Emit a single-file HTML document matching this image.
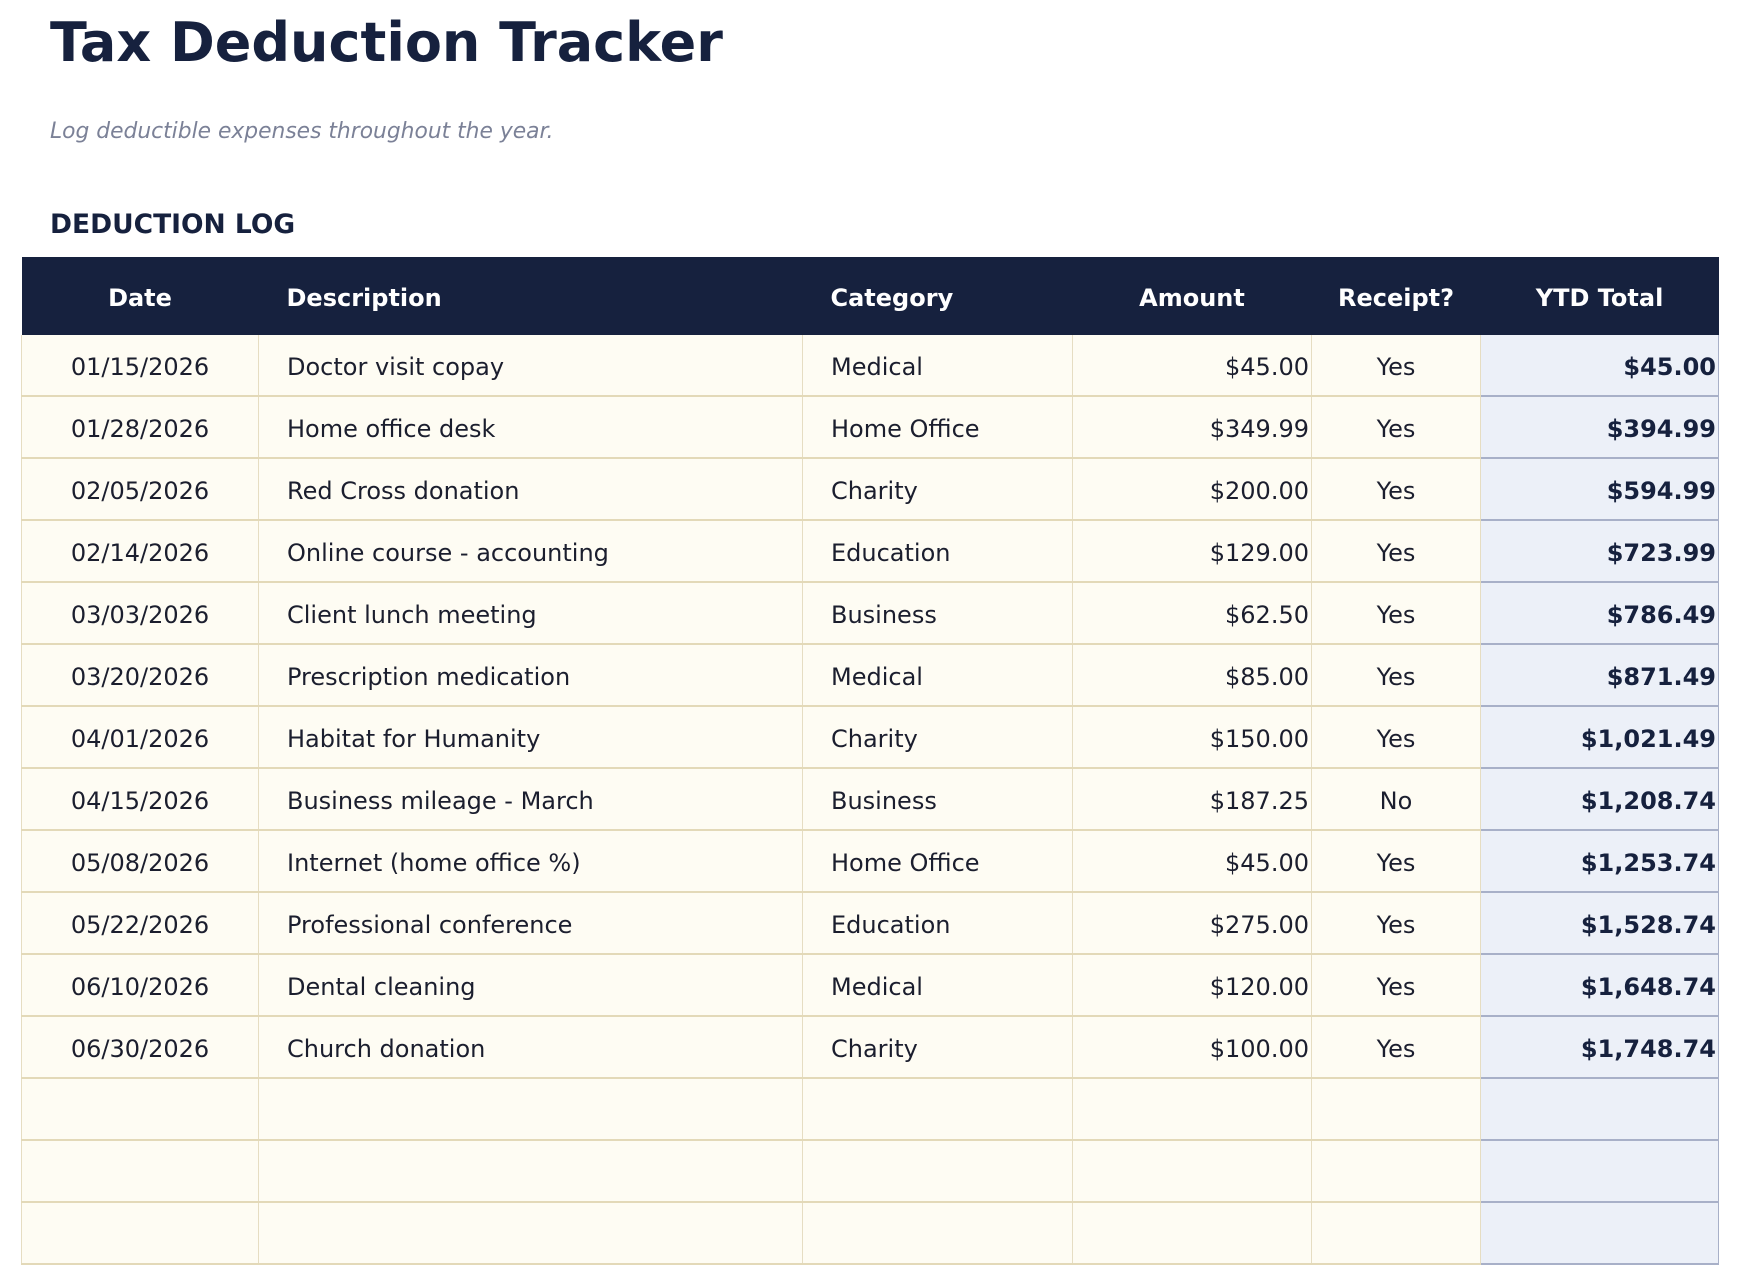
<!DOCTYPE html>
<html><head><meta charset="utf-8"><style>
html,body{margin:0;padding:0;background:#fff;width:1739px;height:1284px;overflow:hidden;font-family:"DejaVu Sans","Liberation Sans",sans-serif;}
h1{position:absolute;left:50px;top:8px;margin:0;font-size:54px;font-weight:bold;color:#16213e;line-height:70px;}
.sub{position:absolute;left:50px;top:118px;font-size:21.8px;font-style:italic;color:#7b8197;line-height:28px;}
.sec{position:absolute;left:50px;top:208px;font-size:26.5px;font-weight:bold;color:#16213e;line-height:34px;}
table{position:absolute;left:21px;top:257px;border-collapse:collapse;table-layout:fixed;width:1697px;}
th{background:#16213e;color:#fff;font-size:24px;font-weight:bold;height:78px;padding:0;text-align:center;border:0;}
td{background:#fefcf3;height:60px;font-size:24px;color:#1b1e2e;padding:0;border-left:1px solid #e6ddc2;border-right:1px solid #e6ddc2;border-bottom:2px solid #e3d9b8;}
th span,td span{position:relative;top:2px;}
.l{text-align:left;padding-left:28px;}
.c{text-align:center;}
.r{text-align:right;padding-right:2px;}
td.y{background:#ecf0f8;border-left:1px solid #a8b0c8;border-right:1px solid #a8b0c8;border-bottom:2px solid #a8b0c8;font-weight:bold;color:#16213e;text-align:right;padding-right:2px;}
</style></head><body>
<h1>Tax Deduction Tracker</h1>
<div class="sub">Log deductible expenses throughout the year.</div>
<div class="sec">DEDUCTION LOG</div>
<table>
<colgroup><col style="width:237px"><col style="width:544px"><col style="width:270px"><col style="width:239px"><col style="width:169px"><col style="width:238px"></colgroup>
<tr><th><span>Date</span></th><th class="l"><span>Description</span></th><th class="l"><span>Category</span></th><th><span>Amount</span></th><th><span>Receipt?</span></th><th><span>YTD Total</span></th></tr>
<tr><td class="c"><span>01/15/2026</span></td><td class="l"><span>Doctor visit copay</span></td><td class="l"><span>Medical</span></td><td class="r"><span>$45.00</span></td><td class="c"><span>Yes</span></td><td class="y"><span>$45.00</span></td></tr>
<tr><td class="c"><span>01/28/2026</span></td><td class="l"><span>Home office desk</span></td><td class="l"><span>Home Office</span></td><td class="r"><span>$349.99</span></td><td class="c"><span>Yes</span></td><td class="y"><span>$394.99</span></td></tr>
<tr><td class="c"><span>02/05/2026</span></td><td class="l"><span>Red Cross donation</span></td><td class="l"><span>Charity</span></td><td class="r"><span>$200.00</span></td><td class="c"><span>Yes</span></td><td class="y"><span>$594.99</span></td></tr>
<tr><td class="c"><span>02/14/2026</span></td><td class="l"><span>Online course - accounting</span></td><td class="l"><span>Education</span></td><td class="r"><span>$129.00</span></td><td class="c"><span>Yes</span></td><td class="y"><span>$723.99</span></td></tr>
<tr><td class="c"><span>03/03/2026</span></td><td class="l"><span>Client lunch meeting</span></td><td class="l"><span>Business</span></td><td class="r"><span>$62.50</span></td><td class="c"><span>Yes</span></td><td class="y"><span>$786.49</span></td></tr>
<tr><td class="c"><span>03/20/2026</span></td><td class="l"><span>Prescription medication</span></td><td class="l"><span>Medical</span></td><td class="r"><span>$85.00</span></td><td class="c"><span>Yes</span></td><td class="y"><span>$871.49</span></td></tr>
<tr><td class="c"><span>04/01/2026</span></td><td class="l"><span>Habitat for Humanity</span></td><td class="l"><span>Charity</span></td><td class="r"><span>$150.00</span></td><td class="c"><span>Yes</span></td><td class="y"><span>$1,021.49</span></td></tr>
<tr><td class="c"><span>04/15/2026</span></td><td class="l"><span>Business mileage - March</span></td><td class="l"><span>Business</span></td><td class="r"><span>$187.25</span></td><td class="c"><span>No</span></td><td class="y"><span>$1,208.74</span></td></tr>
<tr><td class="c"><span>05/08/2026</span></td><td class="l"><span>Internet (home office %)</span></td><td class="l"><span>Home Office</span></td><td class="r"><span>$45.00</span></td><td class="c"><span>Yes</span></td><td class="y"><span>$1,253.74</span></td></tr>
<tr><td class="c"><span>05/22/2026</span></td><td class="l"><span>Professional conference</span></td><td class="l"><span>Education</span></td><td class="r"><span>$275.00</span></td><td class="c"><span>Yes</span></td><td class="y"><span>$1,528.74</span></td></tr>
<tr><td class="c"><span>06/10/2026</span></td><td class="l"><span>Dental cleaning</span></td><td class="l"><span>Medical</span></td><td class="r"><span>$120.00</span></td><td class="c"><span>Yes</span></td><td class="y"><span>$1,648.74</span></td></tr>
<tr><td class="c"><span>06/30/2026</span></td><td class="l"><span>Church donation</span></td><td class="l"><span>Charity</span></td><td class="r"><span>$100.00</span></td><td class="c"><span>Yes</span></td><td class="y"><span>$1,748.74</span></td></tr>
<tr><td></td><td></td><td></td><td></td><td></td><td class="y"></td></tr>
<tr><td></td><td></td><td></td><td></td><td></td><td class="y"></td></tr>
<tr><td></td><td></td><td></td><td></td><td></td><td class="y"></td></tr>
</table>
</body></html>
